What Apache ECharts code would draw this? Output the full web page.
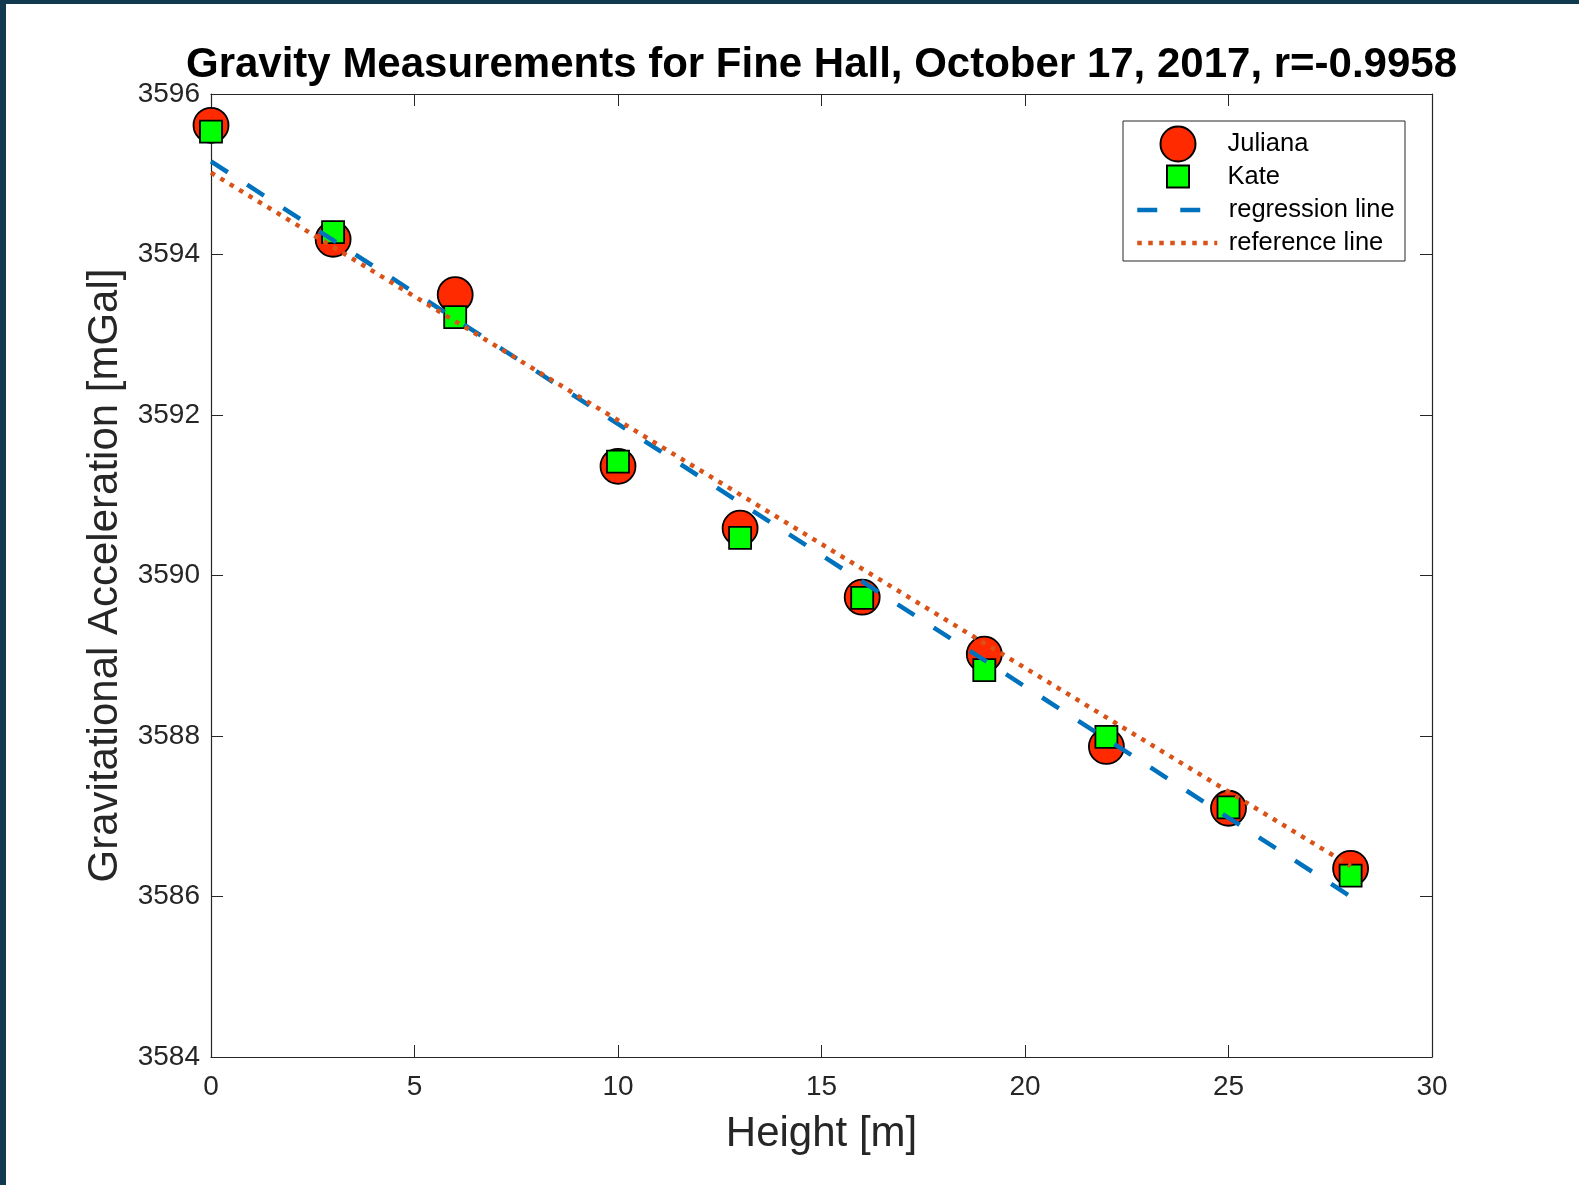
<!DOCTYPE html>
<html>
<head>
<meta charset="utf-8">
<script src="https://cdn.jsdelivr.net/npm/echarts@6/dist/echarts.min.js"></script>
<style>
  html, body { margin: 0; padding: 0; background: #fff; }
  #chart { position: absolute; left: 0; top: 0; width: 1579px; height: 1185px; }
  .edge { position: absolute; background: #113a50; pointer-events: none; }
</style>
</head>
<body>
<div id="chart"></div>
<div class="edge" style="left:0;top:0;width:1579px;height:4px"></div>
<div class="edge" style="left:0;top:0;width:6px;height:1185px"></div>
<script>
// heights of the stations [m]
const heights = [0, 3, 6, 10, 13, 16, 19, 22, 25, 28]
// readings [mGal]
const juliana = [3595.61, 3594.19, 3593.50, 3591.36, 3590.59, 3589.73, 3589.02, 3587.87, 3587.10, 3586.35]
const kate = [3595.53, 3594.28, 3593.22, 3591.42, 3590.47, 3589.72, 3588.82, 3587.99, 3587.11, 3586.26]
// fitted and theoretical lines, end points
const lineX = [0, 28]
const regressionY = [3595.16, 3586.00]
const referenceY = [3595.02, 3586.38]
const xTicks = [0, 5, 10, 15, 20, 25, 30]
const yTicks = [3584, 3586, 3588, 3590, 3592, 3594, 3596]

const axisColor = '#262626'
const font = 'Liberation Sans, Arial, Helvetica, sans-serif'
const dashed = [20, 23]
const dotted = [4.5, 6.5]

function pairs (xs, ys) {
  return xs.map((x, i) => [x, ys[i]])
}

function boxAxis (ticks, extra) {
  return Object.assign({
    type: 'value',
    min: ticks[0],
    max: ticks[ticks.length - 1],
    interval: ticks[1] - ticks[0],
    axisLine: { onZero: false, lineStyle: { color: axisColor, width: 1.2 } },
    axisTick: { inside: true, length: 12, lineStyle: { color: axisColor, width: 1 } },
    splitLine: { show: false },
    axisLabel: { show: false }
  }, extra)
}

const labelStyle = {
  show: true,
  color: axisColor,
  fontSize: 28,
  fontFamily: font,
  formatter: v => String(v)
}

const legendText = { color: '#000', fontSize: 25.5, fontFamily: font }

// one legend per row so every icon can have its own size
function legendRow (name, left, top, w, h, pad, extra) {
  return Object.assign({
    orient: 'vertical',
    padding: 0,
    selectedMode: false,
    data: [name],
    left: left,
    top: top,
    itemWidth: w,
    itemHeight: h,
    textStyle: Object.assign({ padding: [0, 0, 0, pad] }, legendText)
  }, extra)
}

// line legends: keep the line, hide the dot echarts puts in the middle
const noDot = { color: 'rgba(0,0,0,0)', borderWidth: 0, borderColor: 'rgba(0,0,0,0)' }

const option = {
  animation: false,
  backgroundColor: '#fff',
  title: {
    text: 'Gravity Measurements for Fine Hall, October 17, 2017, r=-0.9958',
    left: 821.5,
    top: 44,
    textAlign: 'center',
    padding: 0,
    textStyle: { color: '#000', fontSize: 42, fontWeight: 'bold', fontFamily: font }
  },
  grid: { left: 211, top: 94, right: 147, bottom: 128 },
  xAxis: [
    boxAxis(xTicks, {
      position: 'bottom',
      axisLabel: Object.assign({ margin: 16 }, labelStyle),
      name: 'Height [m]',
      nameLocation: 'middle',
      nameGap: 56,
      nameTextStyle: { color: axisColor, fontSize: 42, fontFamily: font }
    }),
    boxAxis(xTicks, { position: 'top' })
  ],
  yAxis: [
    boxAxis(yTicks, {
      position: 'left',
      axisLabel: Object.assign({ margin: 11 }, labelStyle),
      name: 'Gravitational Acceleration [mGal]',
      nameLocation: 'middle',
      nameGap: 83,
      nameTextStyle: { color: axisColor, fontSize: 42, fontFamily: font }
    }),
    boxAxis(yTicks, { position: 'right' })
  ],
  graphic: [{
    type: 'rect',
    z: 3,
    shape: { x: 1123, y: 121, width: 282, height: 140 },
    style: { fill: '#fff', stroke: axisColor, lineWidth: 1 }
  }],
  legend: [
    legendRow('Juliana', 1159.5, 125.5, 35, 35, 27),
    legendRow('Kate', 1166, 163.5, 22, 22, 33.5),
    legendRow('regression line', 1135, 197, 64, 14, 22.5, {
      itemStyle: noDot,
      lineStyle: { color: '#0072bd', width: 4.5, type: dashed, cap: 'butt' }
    }),
    legendRow('reference line', 1135, 230, 80, 14, 6.5, {
      itemStyle: noDot,
      lineStyle: { color: '#d95319', width: 4.5, type: dotted, cap: 'butt' }
    })
  ],
  series: [
    {
      name: 'Juliana',
      type: 'scatter',
      symbol: 'circle',
      symbolSize: 35,
      itemStyle: { color: '#ff2a00', borderColor: '#000', borderWidth: 1.8, opacity: 1 },
      data: pairs(heights, juliana)
    },
    {
      name: 'Kate',
      type: 'scatter',
      symbol: 'rect',
      symbolSize: 22,
      itemStyle: { color: '#00ff00', borderColor: '#000', borderWidth: 1.8, opacity: 1 },
      data: pairs(heights, kate)
    },
    {
      name: 'regression line',
      type: 'line',
      symbol: 'none',
      color: '#0072bd',
      lineStyle: { color: '#0072bd', width: 4.5, type: dashed, cap: 'butt' },
      data: pairs(lineX, regressionY)
    },
    {
      name: 'reference line',
      type: 'line',
      symbol: 'none',
      color: '#d95319',
      lineStyle: { color: '#d95319', width: 4.5, type: dotted, cap: 'butt' },
      data: pairs(lineX, referenceY)
    }
  ]
}

const myChart = echarts.init(document.getElementById('chart'))
myChart.setOption(option)
</script>
</body>
</html>
